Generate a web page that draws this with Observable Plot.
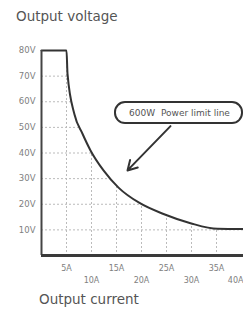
<!DOCTYPE html>
<html>
<head>
<meta charset="utf-8">
<script src="https://cdn.jsdelivr.net/npm/d3@7"></script>
<script src="https://cdn.jsdelivr.net/npm/@observablehq/plot@0.6"></script>
<style>
  html, body { margin: 0; padding: 0; background: #fff; overflow: hidden; }
  #wrap { position: relative; width: 243px; height: 313px; font-family: "DejaVu Sans", sans-serif; }
  #title { position: absolute; left: 16px; top: 8px; font-size: 13.5px; color: #555; white-space: nowrap; }
  #xlabel { position: absolute; left: 39px; top: 291px; font-size: 13.5px; color: #555; white-space: nowrap; }
  #chart { position: absolute; left: 0; top: 0; }
</style>
</head>
<body>
<div id="wrap">
  <div id="chart"></div>
  <div id="title">Output voltage</div>
  <div id="xlabel">Output current</div>
</div>
<script>
// Power-limit curve (current in A, voltage in V)
const currentA = [0, 5, 5.2, 6.6, 8.2, 9.8, 12.4, 15.4, 19.6, 24.4, 29.8, 35.2, 40.4];
const voltageV = [80, 80, 71, 55, 47.5, 41, 33.2, 26.5, 20.5, 16.2, 12.6, 10.4, 10.3];

// Axis ticks
const yTicks = [10, 20, 30, 40, 50, 60, 70, 80];
const xTicks = [5, 10, 15, 20, 25, 30, 35, 40];
const yGrid = [10, 20, 30, 40, 50, 60, 70];
const xGrid = [5, 10, 15, 20, 25, 30, 35];

// Callout annotation
const calloutText = ["600W  Power limit line"];
const calloutBox = [{x1: 14.8, x2: 40.2, y1: 51.5, y2: 59.7, tx: 27.6, ty: 55.6}];
const arrowPts = [{x1: 25.8, y1: 50.5, x2: 17.2, y2: 33.2}];

const curve = currentA.map((a, i) => ({a, v: voltageV[i]}));

const chart = Plot.plot({
  width: 243,
  height: 313,
  marginLeft: 41,
  marginRight: 0,
  marginTop: 50,
  marginBottom: 58,
  x: {domain: [0, 40.4], axis: null},
  y: {domain: [0, 80], axis: null},
  style: {fontFamily: "DejaVu Sans, sans-serif", background: "transparent", overflow: "visible"},
  marks: [
    Plot.ruleY(yGrid, {stroke: "#bbb", strokeWidth: 1, strokeDasharray: "2,2"}),
    Plot.ruleX(xGrid, {stroke: "#bbb", strokeWidth: 1, strokeDasharray: "2,2"}),
    // white mask above the curve, so the grid stays under it
    Plot.areaY(curve, {x: "a", y1: "v", y2: 82, fill: "white", curve: "monotone-x"}),
    Plot.line(curve, {x: "a", y: "v", stroke: "#333", strokeWidth: 2, curve: "monotone-x"}),
    Plot.ruleX([0], {y1: 0, y2: 80, stroke: "#444", strokeWidth: 2}),
    Plot.ruleY([0], {stroke: "#3a3a3a", strokeWidth: 3}),
    Plot.text(yTicks, {x: 0, y: d => d, text: d => d + "V", textAnchor: "end", dx: -6, fontSize: 8.5, fill: "#808080"}),
    Plot.text(xTicks.filter((d, i) => i % 2 === 0), {x: d => d, y: 0, text: d => d + "A", dy: 13, fontSize: 8, fill: "#808080"}),
    Plot.text(xTicks.filter((d, i) => i % 2 === 1 && d < 40), {x: d => d, y: 0, text: d => d + "A", dy: 25, fontSize: 8, fill: "#808080"}),
    Plot.text(xTicks.filter(d => d === 40), {x: d => d, y: 0, text: d => d + "A", dy: 25, dx: 2, textAnchor: "end", fontSize: 8, fill: "#808080"}),
    Plot.arrow(arrowPts, {x1: "x1", y1: "y1", x2: "x2", y2: "y2", stroke: "#333", strokeWidth: 2, headLength: 8}),
    Plot.rect(calloutBox, {x1: "x1", x2: "x2", y1: "y1", y2: "y2", fill: "white", stroke: "#333", strokeWidth: 2, rx: 10}),
    Plot.text(calloutBox, {x: "tx", y: "ty", text: () => calloutText[0], fontSize: 9, fill: "#555"})
  ]
});
document.getElementById("chart").appendChild(chart);
</script>
</body>
</html>
